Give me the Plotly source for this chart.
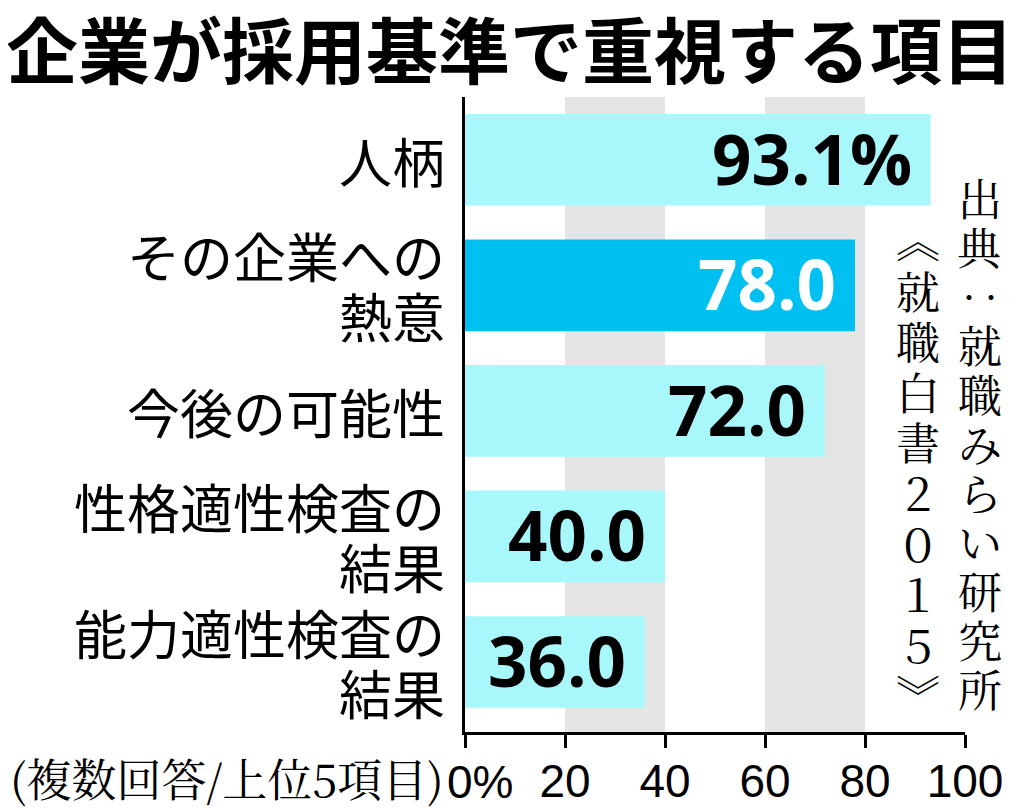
import plotly.graph_objects as go

title = "企業が採用基準で重視する項目"
categories = ["人柄", "その企業への<br>熱意", "今後の可能性", "性格適性検査の<br>結果", "能力適性検査の<br>結果"]
values = [93.1, 78.0, 72.0, 40.0, 36.0]
highlight = [False, True, False, False, False]
tick_vals = [0, 20, 40, 60, 80, 100]
tick_text = ["", "20", "40", "60", "80", "100"]
zero_label = "0%"
note = "(複数回答/上位5項目)"
source_col1 = "出典‥就職みらい研究所"
source_col2 = "︽就職白書２０１５︾"

LIGHT = "#a8f7fb"
DARK = "#00bff1"
GRAY = "#e5e5e5"
JP = "Noto Sans CJK JP"
JP_SERIF = "Noto Serif CJK JP, Noto Sans CJK JP"
NUM = "Liberation Sans Narrow, Liberation Sans"

OFF = 8  # page body margin
W, H = 1024 - OFF, 808 - OFF
# plot area in page pixels
L, R, T, B = 465, 965, 97, 732


def px(p):
    return (p - L) / (R - L)


def py(p):
    return (B - p) / (B - T)


fig = go.Figure()
fig.add_trace(go.Bar(
    x=values, y=categories, orientation="h",
    marker=dict(color=[DARK if h else LIGHT for h in highlight], line=dict(width=0)),
    width=0.73, hoverinfo="skip",
))

shapes = []
for x0, x1 in [(20, 40), (60, 80)]:
    shapes.append(dict(type="rect", xref="x", yref="paper", x0=x0, x1=x1, y0=0, y1=1,
                       fillcolor=GRAY, line=dict(width=0), layer="below"))

ann = []
for i, (c, v) in enumerate(zip(categories, values)):
    txt = f"{v:.1f}" + ("%" if i == 0 else "")
    ann.append(dict(x=v, y=c, xref="x", yref="y", text=txt, showarrow=False,
                    xanchor="right", yanchor="middle", xshift=-17, yshift=2,
                    font=dict(family="Open Sans", size=69, color="white" if highlight[i] else "black",
                              weight=700)))
    lines = c.split("<br>")
    n = len(lines)
    for j, ln in enumerate(lines):
        ann.append(dict(x=px(447), y=c, xref="paper", yref="y", text=ln, showarrow=False,
                        xanchor="right", yanchor="middle", yshift=(n - 1) * 30 - 60 * j,
                        font=dict(family=JP, size=53, color="black")))

ann.append(dict(x=px(510), y=py(47), xref="paper", yref="paper", text=title, showarrow=False,
                xanchor="center", yanchor="middle",
                font=dict(family=JP, size=72, color="black", weight=700)))
ann.append(dict(x=px(446), y=py(777), xref="paper", yref="paper", text=note, showarrow=False,
                xanchor="right", yanchor="middle",
                font=dict(family=JP_SERIF, size=45, color="black")))
ann.append(dict(x=px(445), y=py(782), xref="paper", yref="paper", text=zero_label, showarrow=False,
                xanchor="left", yanchor="middle",
                font=dict(family=NUM, size=46, color="black")))

for k, ch in enumerate(source_col1):
    ann.append(dict(x=px(980), y=py(197 + 49.1 * k), xref="paper", yref="paper", text=ch,
                    showarrow=False, xanchor="center", yanchor="middle",
                    font=dict(family=JP_SERIF, size=44, color="black")))
for k, ch in enumerate(source_col2):
    ann.append(dict(x=px(918), y=py(239 + 50.6 * k), xref="paper", yref="paper", text=ch,
                    showarrow=False, xanchor="center", yanchor="middle",
                    font=dict(family=JP_SERIF, size=44, color="black")))

fig.update_layout(
    width=W, height=H,
    margin=dict(l=L - OFF, r=W - (R - OFF), t=T - OFF, b=H - (B - OFF), pad=0, autoexpand=False),
    paper_bgcolor="white", plot_bgcolor="white",
    showlegend=False,
    shapes=shapes, annotations=ann,
    xaxis=dict(range=[0, 100], tickvals=tick_vals, ticktext=tick_text, automargin=False,
               showgrid=False, zeroline=False, showline=True, linecolor="black", linewidth=3,
               ticks="outside", ticklen=13, tickwidth=2.5, tickcolor="black",
               ticklabelstandoff=-6,
               tickfont=dict(family=NUM, size=46, color="black"),
               fixedrange=True),
    yaxis=dict(type="category", autorange="reversed", showgrid=False, zeroline=False,
               automargin=False,
               showline=True, linecolor="black", linewidth=3, ticks="",
               showticklabels=False, fixedrange=True),
)

fig.write_html("out.html")
